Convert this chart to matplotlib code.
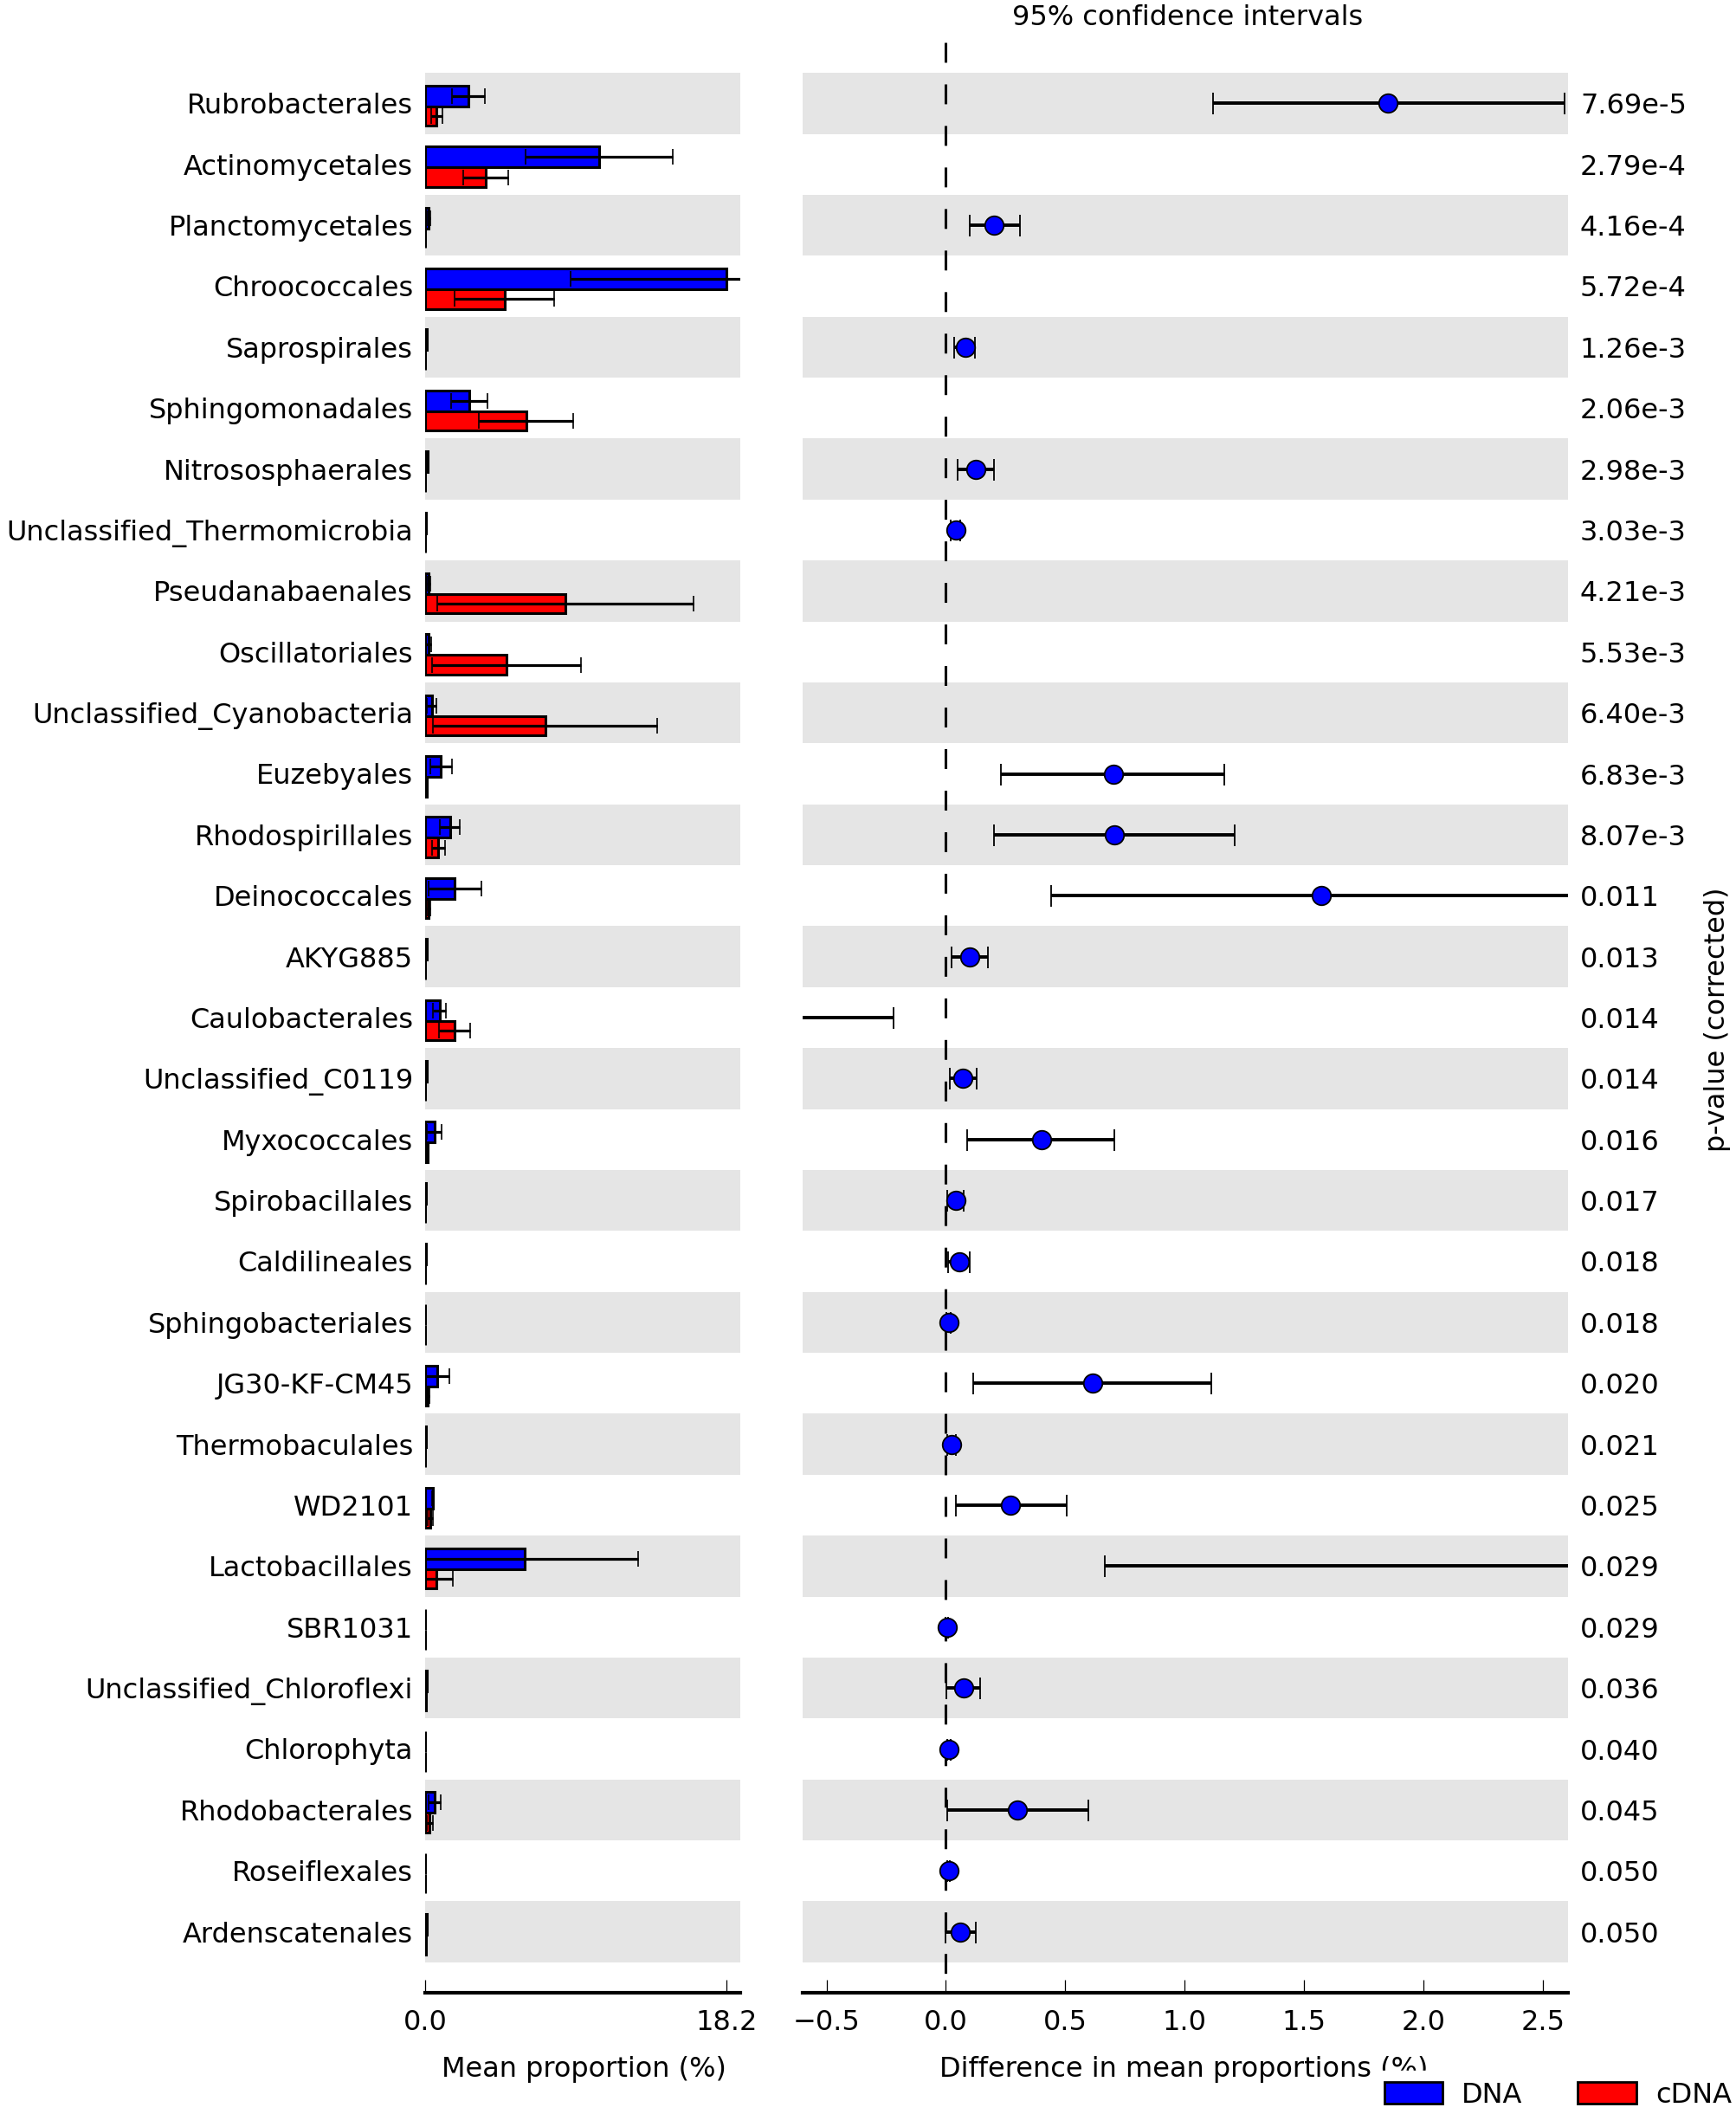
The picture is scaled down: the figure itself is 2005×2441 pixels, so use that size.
import matplotlib
matplotlib.use("Agg")
import matplotlib.pyplot as plt
from matplotlib.patches import Patch
import numpy as np

plt.rcParams['font.family'] = ['DejaVu Sans']
plt.rcParams['font.size'] = 23

taxa = ["Rubrobacterales", "Actinomycetales", "Planctomycetales", "Chroococcales",
        "Saprospirales", "Sphingomonadales", "Nitrososphaerales",
        "Unclassified_Thermomicrobia", "Pseudanabaenales", "Oscillatoriales",
        "Unclassified_Cyanobacteria", "Euzebyales", "Rhodospirillales",
        "Deinococcales", "AKYG885", "Caulobacterales", "Unclassified_C0119",
        "Myxococcales", "Spirobacillales", "Caldilineales", "Sphingobacteriales",
        "JG30-KF-CM45", "Thermobaculales", "WD2101", "Lactobacillales", "SBR1031",
        "Unclassified_Chloroflexi", "Chlorophyta", "Rhodobacterales",
        "Roseiflexales", "Ardenscatenales"]

p_values = ["7.69e-5", "2.79e-4", "4.16e-4", "5.72e-4", "1.26e-3", "2.06e-3",
            "2.98e-3", "3.03e-3", "4.21e-3", "5.53e-3", "6.40e-3", "6.83e-3",
            "8.07e-3", "0.011", "0.013", "0.014", "0.014", "0.016", "0.017",
            "0.018", "0.018", "0.020", "0.021", "0.025", "0.029", "0.029",
            "0.036", "0.040", "0.045", "0.050", "0.050"]

dna_mean = [2.6, 10.5, 0.22, 18.2, 0.09, 2.65, 0.15, 0.05, 0.2, 0.2, 0.4, 0.95,
            1.5, 1.8, 0.12, 0.87, 0.09, 0.55, 0.05, 0.07, 0.02, 0.75, 0.03, 0.45,
            6.0, 0.01, 0.12, 0.02, 0.58, 0.015, 0.12]
dna_sd = [1.0, 4.45, 0.08, 9.4, 0.04, 1.1, 0.05, 0.02, 0.1, 0.15, 0.3, 0.65,
          0.6, 1.6, 0.05, 0.4, 0.05, 0.42, 0.03, 0.04, 0.01, 0.7, 0.02, 0.05,
          6.9, 0.01, 0.05, 0.01, 0.35, 0.01, 0.04]
cdna_mean = [0.7, 3.65, 0.02, 4.8, 0.01, 6.1, 0.02, 0.01, 8.5, 4.9, 7.25, 0.12,
             0.8, 0.2, 0.02, 1.78, 0.02, 0.15, 0.01, 0.01, 0.005, 0.14, 0.005,
             0.3, 0.67, 0.005, 0.03, 0.005, 0.27, 0.004, 0.03]
cdna_sd = [0.35, 1.35, 0.01, 3.0, 0.01, 2.85, 0.01, 0.005, 7.75, 4.5, 6.8, 0.06,
           0.4, 0.1, 0.01, 0.95, 0.01, 0.08, 0.005, 0.005, 0.003, 0.1, 0.003,
           0.15, 1.0, 0.003, 0.02, 0.003, 0.18, 0.003, 0.02]

diff = [1.85, 6.85, 0.20, 13.4, 0.08, -3.45, 0.125, 0.04, -8.3, -4.7, -6.85,
        0.70, 0.705, 1.57, 0.098, -0.91, 0.07, 0.40, 0.04, 0.055, 0.012, 0.614,
        0.024, 0.27, 5.3, 0.004, 0.073, 0.013, 0.30, 0.011, 0.061]
ci_low = [1.12, 3.3, 0.10, 4.5, 0.034, -6.3, 0.05, 0.02, -16.0, -9.2, -13.6,
          0.23, 0.20, 0.44, 0.024, -1.6, 0.016, 0.09, 0.004, 0.01, 0.003, 0.116,
          0.005, 0.04, 0.665, 0.0, 0.003, 0.005, 0.004, 0.004, 0.0]
ci_high = [2.59, 10.4, 0.31, 22.3, 0.123, -0.8, 0.20, 0.06, -0.65, -0.65, -0.7,
           1.165, 1.21, 2.70, 0.176, -0.22, 0.128, 0.705, 0.074, 0.098, 0.02,
           1.11, 0.04, 0.504, 9.95, 0.008, 0.143, 0.02, 0.595, 0.018, 0.125]

groups = ["DNA", "cDNA"]
colors = ["#0000ff", "#ff0000"]

n = len(taxa)
rows = np.arange(n)
diff_a = np.array(diff)
xerr_ci = [diff_a - np.array(ci_low), np.array(ci_high) - diff_a]

W, H = 2005, 2441
fig = plt.figure(figsize=(W / 100, H / 100), dpi=100)

ax1 = fig.add_axes([491 / W, 1 - 2301 / H, 364 / W, 2252 / H])
ax2 = fig.add_axes([927 / W, 1 - 2301 / H, 884 / W, 2252 / H])

band_color = "#e5e5e5"
for ax in (ax1, ax2):
    for i in rows:
        if i % 2 == 0:
            ax.axhspan(i - 0.5, i + 0.5, color=band_color, lw=0, zorder=0)
    ax.set_ylim(n, -1)
    for s in ("top", "left", "right"):
        ax.spines[s].set_visible(False)
    ax.spines["bottom"].set_linewidth(3)
    ax.tick_params(axis="x", direction="in", length=11, width=0.9, pad=14,
                   top=False, labelsize=23)

# ----- left: mean proportions -----
h_dna, h_cdna = 0.34, 0.32
y_dna = rows - 0.12
y_cdna = rows + 0.21
ax1.barh(y_dna, dna_mean, height=h_dna, color=colors[0], edgecolor="black",
         linewidth=2.2, zorder=2)
ax1.barh(y_cdna, cdna_mean, height=h_cdna, color=colors[1], edgecolor="black",
         linewidth=2.2, zorder=2)
ax1.errorbar(dna_mean, y_dna, xerr=dna_sd, fmt="none", ecolor="black",
             elinewidth=2.3, capsize=6.5, capthick=1.2, zorder=3)
ax1.errorbar(cdna_mean, y_cdna, xerr=cdna_sd, fmt="none", ecolor="black",
             elinewidth=2.3, capsize=6.5, capthick=1.2, zorder=3)
ax1.set_xlim(0, 19.05)
xmax = max(dna_mean + cdna_mean)
ax1.set_xticks([0, xmax])
ax1.set_xticklabels(["0.0", "%.1f" % xmax])
ax1.set_yticks(rows)
ax1.set_yticklabels(taxa)
ax1.tick_params(axis="y", length=0, pad=10, labelsize=23)

# ----- right: difference with CI -----
ax2.plot([0, 0], [-1, n], color="black", lw=2.2, ls=(0, (7.5, 8.2)), zorder=1)
ax2.errorbar(diff, rows, xerr=xerr_ci, fmt="o", color="black",
             markerfacecolor=colors[0], markeredgecolor="black",
             markeredgewidth=1.3, markersize=15.5, elinewidth=2.8, capsize=9,
             capthick=1.0, zorder=3)
ax2.set_xlim(-0.6, 2.605)
ax2.set_xticks([-0.5, 0.0, 0.5, 1.0, 1.5, 2.0, 2.5])
ax2.set_xticklabels(["\u22120.5", "0.0", "0.5", "1.0", "1.5", "2.0", "2.5"])
ax2.set_yticks(rows)
ax2.set_yticklabels(p_values)
ax2.yaxis.tick_right()
ax2.tick_params(axis="y", length=0, pad=10, labelsize=23, left=False,
                right=False, labelleft=False, labelright=True)

# ----- texts -----
fig.text(879 / 1285, 1 - 13 / 1564, "95% confidence intervals",
         ha="center", va="center", fontsize=23)
fig.text(432 / 1285, 1 - 1531 / 1564, "Mean proportion (%)",
         ha="center", va="center", fontsize=23)
fig.text(876 / 1285, 1 - 1531 / 1564, "Difference in mean proportions (%)",
         ha="center", va="center", fontsize=23)
fig.text(1271 / 1285, 1 - 754 / 1564, "p-value (corrected)", rotation=90,
         ha="center", va="center", fontsize=23)

handles = [Patch(facecolor=c, edgecolor="black", linewidth=2) for c in colors]
leg = fig.legend(handles, groups, loc="center left",
                 bbox_to_anchor=(1586 / W, 22 / H), ncol=2, frameon=True,
                 fancybox=False, facecolor="white", edgecolor="white",
                 framealpha=1, handlelength=2.1, handleheight=0.85,
                 handletextpad=0.7, columnspacing=2.0, borderpad=0.4,
                 borderaxespad=0, fontsize=23)

fig.savefig("out.png", dpi=100)
